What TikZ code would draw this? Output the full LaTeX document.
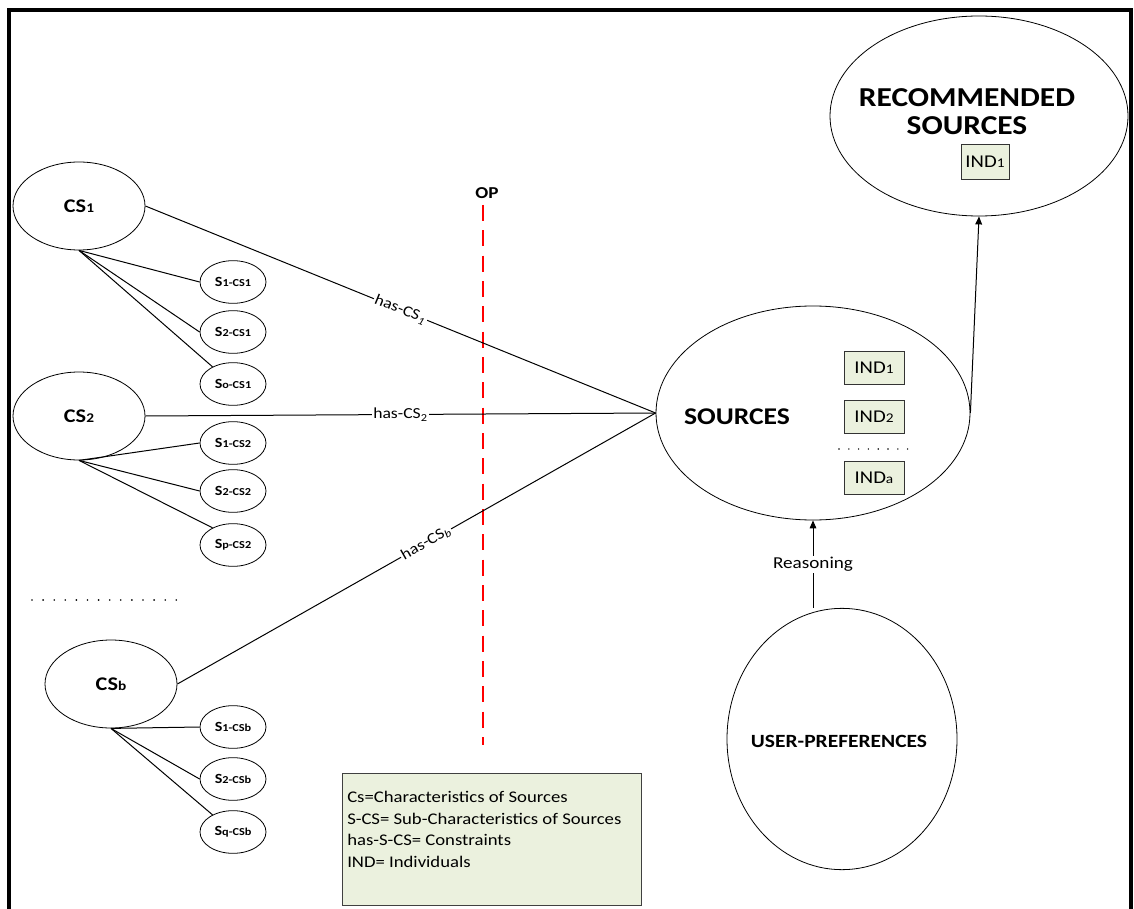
\documentclass[tikz,border=0pt]{standalone}
\usepackage{fontspec}
\setmainfont{Carlito}[FakeStretch=1.15]
\usetikzlibrary{shapes.geometric,arrows.meta}
\definecolor{legendfill}{HTML}{EBF1DE}
\definecolor{opred}{HTML}{FF0000}
\newcommand\subnum[1]{{\fontsize{10}{12}\selectfont #1}}
\newcommand\subtag[1]{{\fontsize{8}{9}\selectfont #1}}
\newcommand\indnum[1]{{\fontsize{10}{12}\selectfont #1}}
\begin{document}
\begin{tikzpicture}[x=0.75pt,y=-0.75pt,
  bigell/.style={ellipse, draw, line width=0.6pt, inner sep=0pt,
    minimum width=99pt, minimum height=66pt, font=\bfseries\fontsize{14.5}{16}\selectfont},
  subell/.style={ellipse, draw, line width=0.6pt, inner sep=0pt,
    minimum width=49.5pt, minimum height=32pt, font=\bfseries\fontsize{10.5}{12}\selectfont},
  mainell/.style={ellipse, draw, line width=0.6pt, inner sep=0pt},
  indbox/.style={draw=black!80, fill=legendfill, line width=0.6pt, inner sep=0pt,
    minimum width=45pt, minimum height=25pt, font=\fontsize{13.5}{15}\selectfont},
  link/.style={line width=0.75pt},
  arrowlink/.style={line width=0.75pt, -{Triangle[length=6pt,width=5pt]}},
  edgelbl/.style={fill=white, inner sep=1pt, font=\fontsize{11.5}{13}\selectfont},
  dotmark/.style={fill=black}
]
\useasboundingbox (0,0) rectangle (1134,909);

% outer frame (open at the bottom)
\draw[line width=3pt] (9,909) -- (9,10) -- (1131,10) -- (1131,909);

% characteristics of sources and their sub-characteristics
\node[bigell] (cs1) at (79,206) {CS\subnum{1}};
\node[subell] (s11) at (233,282) {S\subtag{1-CS1}};
\node[subell] (s21) at (233,332) {S\subtag{2-CS1}};
\node[subell] (so1) at (233,384) {S\subtag{o-CS1}};

\node[bigell] (cs2) at (79,416) {CS\subnum{2}};
\node[subell] (s12) at (233,443) {S\subtag{1-CS2}};
\node[subell] (s22) at (233,491) {S\subtag{2-CS2}};
\node[subell] (sp2) at (233,545) {S\subtag{p-CS2}};

\foreach \i in {0,...,13} \fill[dotmark] (32+11.1*\i,600) circle (0.7pt);

\node[bigell] (csb) at (111,684) {CS\subnum{b}};
\node[subell] (s1b) at (233,727) {S\subtag{1-CSb}};
\node[subell] (s2b) at (233,779) {S\subtag{2-CSb}};
\node[subell] (sqb) at (233,832) {S\subtag{q-CSb}};

\draw[link] (cs1.south) -- (s11.west);
\draw[link] (cs1.south) -- (s21.west);
\draw[link] (cs1.south) -- (so1.140);
\draw[link] (cs2.south) -- (s12.west);
\draw[link] (cs2.south) -- (s22.west);
\draw[link] (cs2.south) -- (sp2.140);
\draw[link] (csb.south) -- (s1b.west);
\draw[link] (csb.south) -- (s2b.west);
\draw[link] (csb.south) -- (sqb.140);

% object property separator
\node[font=\bfseries\fontsize{12.5}{14}\selectfont] (op) at (487,193) {OP};
\coordinate (optop) at (483,205);
\coordinate (opbot) at (483,745);
\draw[opred, line width=2pt, dash pattern=on 12pt off 7pt] (optop) -- (opbot);

% sources with individuals
\node[mainell, minimum width=235.5pt, minimum height=160.5pt] (src) at (813,413) {};
\node[font=\bfseries\fontsize{18}{20}\selectfont] (srclbl) at (737,417) {SOURCES};
\node[indbox] (ind1) at (874,368) {IND\indnum{1}};
\node[indbox] (ind2) at (874,417) {IND\indnum{2}};
\node[indbox] (inda) at (874,478) {IND\indnum{a}};
\foreach \i in {0,...,7} \fill[dotmark] (839+9.8*\i,449) circle (0.6pt);

% recommended sources
\node[mainell, minimum width=223.5pt, minimum height=150pt] (rec) at (979,116) {};
\node[align=center, font=\bfseries\fontsize{20.5}{21}\selectfont] (reclbl) at (967,112) {RECOMMENDED\\SOURCES};
\node[indbox, minimum width=36pt, minimum height=26pt] (recind) at (985,162) {IND\indnum{1}};

% user preferences
\node[mainell, minimum width=172.5pt, minimum height=196pt] (user) at (842,739) {};
\node[font=\bfseries\fontsize{14}{16}\selectfont] (userlbl) at (839,741) {USER-PREFERENCES};

% relations
\draw[link] (cs1.east) -- node[edgelbl, sloped] {has-CS\textsubscript{\textit{1}}} (src.west);
\draw[link] (cs2.east) -- node[edgelbl] {has-CS\textsubscript{2}} (src.west);
\draw[link] (csb.east) -- node[edgelbl, sloped, pos=0.52] {has-CS\textsubscript{\textit{b}}} (src.west);
\draw[arrowlink] (src.east) -- (rec.south);
\draw[arrowlink] (user.north -| src.south) -- node[edgelbl, font=\fontsize{12.5}{14}\selectfont] {Reasoning} (src.south);

% legend
\node[draw=black!75, fill=legendfill, line width=0.6pt, inner sep=0pt, anchor=north west,
  minimum width=224pt, minimum height=99pt] (legendbox) at (342,773) {};
\node[anchor=north west, align=left, inner sep=0pt, font=\fontsize{12.2}{16.2}\selectfont] (legendtxt) at (347,791)
  {Cs=Characteristics of Sources\\S-CS= Sub-Characteristics of Sources\\has-S-CS= Constraints\\IND= Individuals};
\end{tikzpicture}
\end{document}
